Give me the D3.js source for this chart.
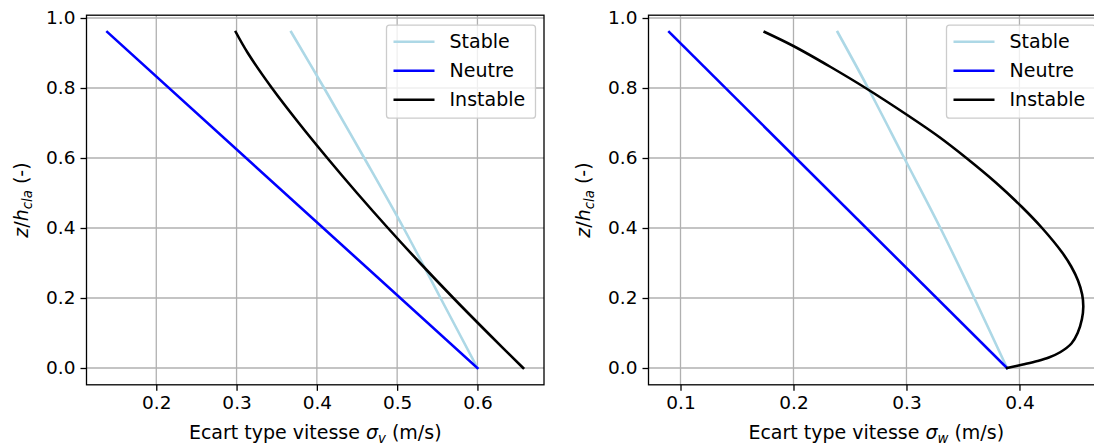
<!DOCTYPE html>
<html><head><meta charset="utf-8">
<script src="https://cdn.jsdelivr.net/npm/d3@7"></script>
<style>
body{margin:0;background:#fff}
text{font-family:"DejaVu Sans",sans-serif;fill:#000}
</style>
</head><body>
<svg id="c" width="1094" height="445"></svg>
<script>
// ---------------- data ----------------
const seriesNames = ["Stable", "Neutre", "Instable"];

// left panel : sigma_v
const zV_stable = [0, 0.2, 0.4, 0.6, 0.8, 0.96];
const sigmaV_stable = [0.600, 0.554, 0.508, 0.459, 0.409, 0.368];
const zV_neutre = [0, 0.96];
const sigmaV_neutre = [0.600, 0.139];
const zV_instable = [0, 0.1, 0.2, 0.3, 0.4, 0.5, 0.6, 0.7, 0.8, 0.9, 0.96];
const sigmaV_instable = [0.657, 0.613, 0.570, 0.5285, 0.4885, 0.450, 0.413, 0.3775, 0.344, 0.314, 0.299];

// right panel : sigma_w
const zW_stable = [0, 0.2, 0.4, 0.6, 0.8, 0.96];
const sigmaW_stable = [0.389, 0.360, 0.330, 0.298, 0.266, 0.239];
const zW_neutre = [0, 0.96];
const sigmaW_neutre = [0.389, 0.090];
const zW_instable = [0, 0.01, 0.02, 0.03, 0.045, 0.07, 0.1, 0.14, 0.175, 0.21, 0.25, 0.29, 0.33, 0.4, 0.46, 0.53, 0.6, 0.66, 0.72, 0.8, 0.86, 0.92, 0.96];
const sigmaW_instable = [0.389, 0.403, 0.416, 0.426, 0.436, 0.446, 0.4515, 0.4553, 0.4565, 0.4555, 0.4518, 0.4458, 0.4378, 0.420, 0.4022, 0.379, 0.353, 0.329, 0.302, 0.2638, 0.2329, 0.1999, 0.1745];

const xTicksV = [0.2, 0.3, 0.4, 0.5, 0.6];
const xTicksW = [0.1, 0.2, 0.3, 0.4];
const yTicks = [0.0, 0.2, 0.4, 0.6, 0.8, 1.0];

// ---------------- styles ----------------
const colors = {"Stable": "#add8e6", "Neutre": "#0000ff", "Instable": "#000000"};
const FS = 19, FST = 18.5;

const svg = d3.select("#c");

function zip(zs, vs){ return zs.map((z,i)=>({z:z, v:vs[i]})); }

function panel(opt){
  const {left, right, top, bottom, series, xTicks, sub} = opt;
  const allV = series.flatMap(s=>s.data.map(d=>d.v));
  const allZ = series.flatMap(s=>s.data.map(d=>d.z));
  const [vmin, vmax] = d3.extent(allV);
  const [zmin, zmax] = d3.extent(allZ);
  const mv = 0.05*(vmax-vmin), mz = 0.05*(zmax-zmin);
  const x = d3.scaleLinear().domain([vmin-mv, vmax+mv]).range([left, right]);
  const y = d3.scaleLinear().domain([zmin-mz, zmax+mz]).range([bottom, top]);
  const g = svg.append("g");

  // grid
  g.append("g").selectAll("line").data(xTicks).join("line")
    .attr("x1", d=>x(d)).attr("x2", d=>x(d)).attr("y1", top).attr("y2", bottom)
    .attr("stroke", "#b0b0b0").attr("stroke-width", 1.3);
  g.append("g").selectAll("line").data(yTicks).join("line")
    .attr("x1", left).attr("x2", right).attr("y1", d=>y(d)).attr("y2", d=>y(d))
    .attr("stroke", "#b0b0b0").attr("stroke-width", 1.3);

  // lines
  const clipId = "clip"+sub;
  svg.append("clipPath").attr("id", clipId).append("rect")
    .attr("x", left).attr("y", top).attr("width", right-left).attr("height", bottom-top);
  const line = d3.line().x(d=>x(d.v)).y(d=>y(d.z)).curve(d3.curveCatmullRom.alpha(0.5));
  g.append("g").attr("clip-path", `url(#${clipId})`).selectAll("path").data(series).join("path")
    .attr("d", s=>line(s.data)).attr("fill", "none")
    .attr("stroke", s=>colors[s.name]).attr("stroke-width", 2.6)
    .attr("stroke-linecap", "square").attr("stroke-linejoin", "round");

  // axes
  const xa = g.append("g").attr("transform", `translate(0,${bottom})`)
    .call(d3.axisBottom(x).tickValues(xTicks).tickFormat(d3.format(".1f")).tickSize(6).tickPadding(5));
  const ya = g.append("g").attr("transform", `translate(${left},0)`)
    .call(d3.axisLeft(y).tickValues(yTicks).tickFormat(d3.format(".1f")).tickSize(6).tickPadding(5));
  [xa, ya].forEach(a=>{
    a.select(".domain").remove();
    a.selectAll("line").attr("stroke", "#000").attr("stroke-width", 1.3);
    a.selectAll("text").attr("font-size", FST).attr("font-family", "DejaVu Sans").attr("fill", "#000");
  });
  // frame
  g.append("rect").attr("x", left).attr("y", top).attr("width", right-left).attr("height", bottom-top)
    .attr("fill", "none").attr("stroke", "#000").attr("stroke-width", 1.3);

  // x label
  const xl = g.append("text").attr("x", (left+right)/2).attr("y", 439)
    .attr("text-anchor", "middle").attr("font-size", FS);
  xl.append("tspan").text("Ecart type vitesse ");
  xl.append("tspan").attr("font-style", "italic").text("σ");
  xl.append("tspan").attr("font-style", "italic").attr("font-size", FS*0.7).attr("dy", 4).text(sub);
  xl.append("tspan").attr("dy", -4).text(" (m/s)");

  // y label
  const yl = g.append("text").attr("transform", `translate(${left-59},${(top+bottom)/2}) rotate(-90)`)
    .attr("text-anchor", "middle").attr("font-size", FS);
  yl.append("tspan").attr("font-style", "italic").text("z");
  yl.append("tspan").text("/");
  yl.append("tspan").attr("font-style", "italic").text("h");
  yl.append("tspan").attr("font-style", "italic").attr("font-size", FS*0.7).attr("dy", 4).text("cla");
  yl.append("tspan").attr("dy", -4).text(" (-)");

  // legend
  const lw = 149, lh = 93;
  const lx = right - 8.5 - lw, ly = top + 10;
  const lg = g.append("g");
  lg.append("rect").attr("x", lx).attr("y", ly).attr("width", lw).attr("height", lh)
    .attr("rx", 3).attr("fill", "#fff").attr("fill-opacity", 0.8)
    .attr("stroke", "#cccccc").attr("stroke-width", 1.3);
  const rows = lg.selectAll("g").data(series).join("g")
    .attr("transform", (d,i)=>`translate(${lx},${ly+16.5+i*29})`);
  rows.append("line").attr("x1", 7).attr("x2", 48).attr("y1", 0).attr("y2", 0)
    .attr("stroke", d=>colors[d.name]).attr("stroke-width", 2.6);
  rows.append("text").attr("x", 63).attr("y", 0).attr("dy", "0.35em")
    .attr("font-size", FS).text(d=>d.name);
}

panel({
  left: 86.5, right: 544, top: 15.2, bottom: 384.8, sub: "v", xTicks: xTicksV,
  series: [
    {name: seriesNames[0], data: zip(zV_stable, sigmaV_stable)},
    {name: seriesNames[1], data: zip(zV_neutre, sigmaV_neutre)},
    {name: seriesNames[2], data: zip(zV_instable, sigmaV_instable)}
  ]
});
panel({
  left: 648.5, right: 1104, top: 15.2, bottom: 384.8, sub: "w", xTicks: xTicksW,
  series: [
    {name: seriesNames[0], data: zip(zW_stable, sigmaW_stable)},
    {name: seriesNames[1], data: zip(zW_neutre, sigmaW_neutre)},
    {name: seriesNames[2], data: zip(zW_instable, sigmaW_instable)}
  ]
});
</script>
</body></html>
